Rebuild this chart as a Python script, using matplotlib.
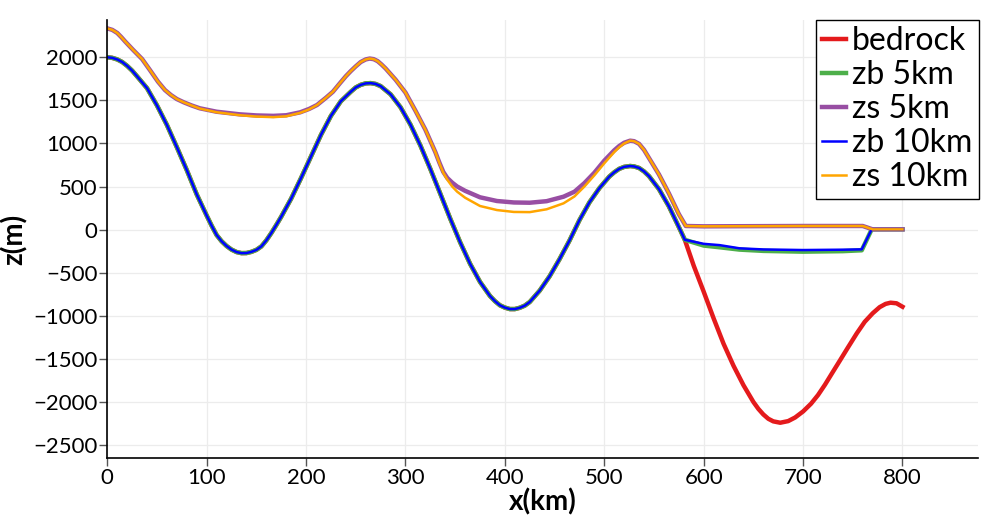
import matplotlib
matplotlib.use("Agg")
import matplotlib.pyplot as plt

plt.rcParams['font.family'] = ['Lato', 'DejaVu Sans']

# bedrock profile (km, m)
bed_x = [0, 5, 10, 15, 20, 25, 30, 40, 50, 60, 70, 80, 90, 100, 105, 110, 115, 120,
         125, 130, 135, 140, 145, 150, 155, 160, 165, 170, 175, 185, 195, 205, 215,
         225, 235, 245, 250, 255, 260, 265, 270, 275, 285, 295, 305, 315, 325, 335,
         345, 355, 365, 375, 385, 390, 395, 400, 405, 410, 415, 420, 425, 435, 445,
         455, 465, 475, 485, 495, 505, 510, 515, 520, 526, 530, 535, 540, 545, 555,
         565, 575, 581, 590, 600, 610, 620, 630, 640, 650, 655, 660, 665, 670, 677,
         685, 692, 700, 708, 715, 722, 730, 737, 745, 754, 762, 770, 777, 783, 788,
         794, 800]
bed_z = [2000, 1993, 1975, 1945, 1900, 1845, 1778, 1641, 1441, 1214, 956, 690, 408,
         163, 45, -63, -135, -190, -232, -260, -273, -272, -258, -235, -195, -125, -40,
         53, 150, 360, 600, 850, 1100, 1320, 1490, 1600, 1650, 1680, 1697, 1700, 1690,
         1665, 1570, 1420, 1218, 976, 704, 417, 128, -147, -397, -607, -770, -830,
         -878, -905, -922, -922, -907, -882, -840, -708, -541, -342, -127, 110, 315,
         480, 615, 665, 705, 728, 738, 733, 715, 675, 620, 470, 270, 30, -118, -420,
         -720, -1030, -1325, -1580, -1805, -2000, -2080, -2145, -2195, -2225, -2241,
         -2222, -2180, -2110, -2020, -1920, -1800, -1650, -1520, -1370, -1204, -1070,
         -971, -900, -862, -848, -855, -895]

# floating ice base beyond the grounding line
float_x = [590, 600, 616, 636, 660, 700, 740, 759, 769, 800]
zb5_float = [-150, -185, -205, -232, -247, -256, -250, -240, 3, 3]
zb10_float = [-140, -165, -180, -217, -230, -237, -233, -229, 3, 3]
grounding_x = 581

# ice surface
zs_x = [0, 5, 10, 14, 18, 26, 35, 43, 51, 58, 64, 70, 77, 85, 93, 110, 133, 150, 167,
        180, 194, 203, 211, 220, 227, 234, 240, 245, 250, 255, 260, 264, 268, 272, 276,
        280, 290, 300, 310, 320, 330, 334, 338, 342, 347, 352, 360, 375, 392, 409, 425,
        442, 459, 470, 480, 490, 500, 510, 515, 520, 526, 530, 535, 540, 545, 555, 565,
        575, 582, 600, 650, 700, 760, 770, 800]
zs5 = [2335, 2318, 2282, 2235, 2183, 2085, 1980, 1850, 1717, 1620, 1562, 1515, 1477,
       1440, 1408, 1368, 1338, 1325, 1320, 1327, 1361, 1400, 1446, 1530, 1600, 1698,
       1780, 1840, 1895, 1945, 1975, 1985, 1978, 1955, 1915, 1870, 1740, 1590, 1380,
       1160, 900, 780, 670, 600, 545, 500, 450, 375, 332, 315, 312, 330, 382, 440, 540,
       660, 800, 920, 970, 1008, 1032, 1026, 995, 925, 830, 640, 420, 180, 42, 38, 40,
       42, 42, 3, 3]
zs10 = [2335, 2318, 2282, 2235, 2183, 2085, 1980, 1850, 1717, 1620, 1562, 1515, 1477,
        1440, 1405, 1362, 1328, 1312, 1305, 1315, 1355, 1395, 1446, 1530, 1600, 1698,
        1780, 1840, 1895, 1945, 1975, 1985, 1978, 1955, 1915, 1870, 1740, 1590, 1380,
        1160, 900, 775, 660, 580, 500, 440, 370, 274, 227, 205, 203, 236, 305, 385, 500,
        630, 770, 900, 955, 1000, 1032, 1026, 995, 925, 830, 640, 420, 180, 42, 38, 40,
        42, 42, 3, 3]

# zb follows the bed up to the grounding line
n_g = bed_x.index(grounding_x) + 1
zb_x = bed_x[:n_g] + float_x
zb5 = bed_z[:n_g] + zb5_float
zb10 = bed_z[:n_g] + zb10_float

fig = plt.figure(figsize=(9.98, 5.25), dpi=100)
ax = fig.add_axes([0.1075, 0.127, 0.8725, 0.835])

ax.plot(bed_x, bed_z, color='#e41a1c', lw=3.2, label='bedrock')
ax.plot(zb_x, zb5, color='#4daf4a', lw=3.2, label='zb 5km')
ax.plot(zs_x, zs5, color='#984ea3', lw=3.2, label='zs 5km')
ax.plot(zb_x, zb10, color='#0000ff', lw=1.8, label='zb 10km')
ax.plot(zs_x, zs10, color='#ffa500', lw=1.8, label='zs 10km')

ax.set_xlim(0, 876)
ax.set_ylim(-2654, 2433)
ax.set_xticks(range(0, 801, 100))
ax.set_yticks(range(-2500, 2001, 500))
ax.grid(True, color='#ececec', lw=0.9)
ax.set_axisbelow(True)

for s in ['top', 'right']:
    ax.spines[s].set_visible(False)
for s in ['left', 'bottom']:
    ax.spines[s].set_linewidth(1.2)
ax.tick_params(axis='both', labelsize=16, length=6, width=1, color='#555555', pad=1)

ax.set_xlabel('x(km)', fontsize=20, fontweight='bold', labelpad=0)
ax.set_ylabel('z(m)', fontsize=20, fontweight='bold', labelpad=4)

leg = ax.legend(loc='upper right', bbox_to_anchor=(979 / 998, 1 - 19.5 / 525),
                bbox_transform=fig.transFigure, fontsize=23, frameon=True,
                fancybox=False, framealpha=1, edgecolor='black', borderaxespad=0,
                borderpad=0.2, labelspacing=0.13, handlelength=0.75,
                handletextpad=0.2)
leg.get_frame().set_linewidth(1.0)

fig.savefig('out.png', dpi=100)
